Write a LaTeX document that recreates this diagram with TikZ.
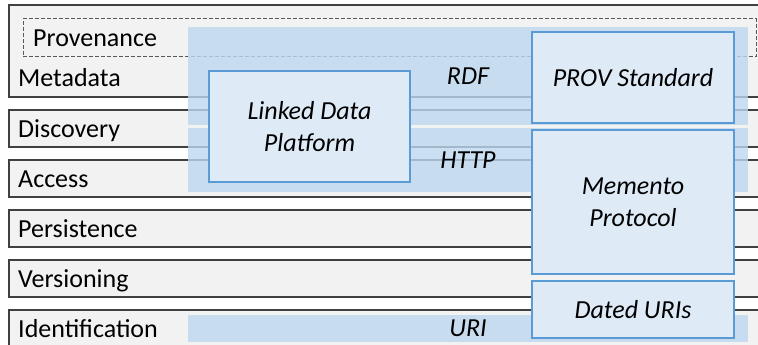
\documentclass[tikz,border=0pt]{standalone}
\usepackage{fontspec}
\setmainfont{Carlito}
\definecolor{layerfill}{HTML}{F2F2F2}
\definecolor{layerline}{HTML}{404040}
\definecolor{provline}{HTML}{595959}
\definecolor{bandblue}{HTML}{BDD7EE}
\definecolor{stdfill}{HTML}{DEEBF7}
\definecolor{stdline}{HTML}{5B9BD5}
\begin{document}
\begin{tikzpicture}[x=1pt, y=-1pt,
		layer/.style={draw=layerline, fill=layerfill, line width=1.2pt, rectangle, anchor=north west, minimum width=800pt, minimum height=37pt, inner sep=0pt, outer sep=0pt},
		lbl/.style={anchor=base west, inner sep=0pt, font={\fontsize{26}{32}\selectfont}},
		band/.style={fill=bandblue, fill opacity=0.8, text opacity=1, minimum width=560pt, inner sep=0pt, outer sep=0pt, font={\fontsize{26}{32}\selectfont\itshape}},
		std/.style={draw=stdline, fill=stdfill, line width=2pt, minimum width=202pt, align=center, inner sep=0pt, outer sep=0pt, font={\fontsize{26}{32}\selectfont\itshape}}]
		\useasboundingbox (0,0) rectangle (758,345);
		\clip (0,0) rectangle (758,345);

		% Layers
		\node[layer, minimum height=92pt] (metadata) at (9,5) {};
		\node[draw=provline, dash pattern=on 4pt off 2pt, line width=1pt, anchor=north west, minimum width=733pt, minimum height=38pt, inner sep=0pt, outer sep=0pt] (provenance) at (23,19) {};
		\node[layer] (discovery) at (9,110) {};
		\node[layer] (access) at (9,160) {};
		\node[layer] (persistence) at (9,210) {};
		\node[layer] (versioning) at (9,260) {};
		\node[layer] (identification) at (9,310) {};

		\node[lbl] (provLbl) at (33,47) {Provenance};
		\node[lbl] (metaLbl) at (18,86) {Metadata};
		\node[lbl] (discLbl) at (18,137) {Discovery};
		\node[lbl] (accLbl) at (18,187) {Access};
		\node[lbl] (persLbl) at (18,237) {Persistence};
		\node[lbl] (versLbl) at (18,287) {Versioning};
		\node[lbl] (identLbl) at (18,337) {Identification};

		% Bands: RDF, HTTP, URI
		\node[band, minimum height=98pt] (rdf) at (468,76) {RDF};
		\node[band, minimum height=64pt] (http) at (468,160) {HTTP};
		\node[band, minimum height=27pt] (uri) at (468,328.5) {URI};

		% Standards
		\node[std, minimum width=201pt, minimum height=111pt] (ldp) at (309.5,126.5) {Linked Data\\Platform};
		\node[std, minimum height=91pt] (prov) at (633,77.5) {PROV Standard};
		\node[std, minimum height=144pt] (memento) at (633,202) {Memento\\Protocol};
		\node[std, minimum height=57pt] (dated) at (633,309.5) {Dated URIs};
	\end{tikzpicture}
\end{document}
